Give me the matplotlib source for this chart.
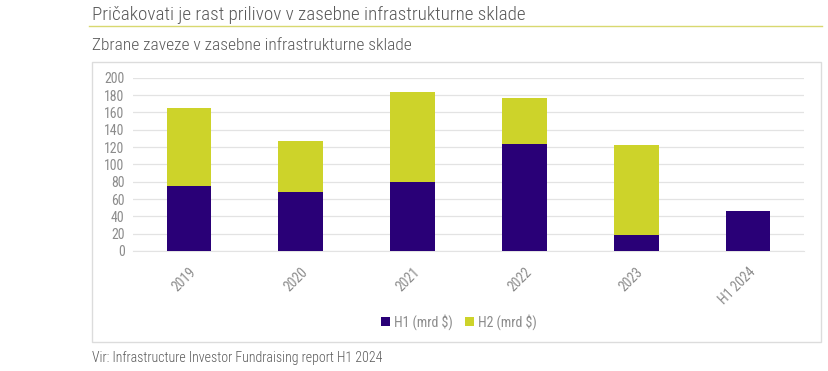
import matplotlib.pyplot as plt
import numpy as np
from matplotlib.patches import Rectangle
from matplotlib.lines import Line2D

# Zbrane zaveze (mrd $), po polletjih
categories = ["2019", "2020", "2021", "2022", "2023", "H1 2024"]
h1_values = [75, 68, 80, 124, 18, 46]
h2_values = [90, 59, 104, 53, 104, 0]

H1_COLOR = "#290077"
H2_COLOR = "#cdd32a"
TEXT_GREY = "#595959"
TICK_GREY = "#8c8c8c"

NARROW = ["Roboto Condensed", "Archivo Narrow", "Liberation Sans", "DejaVu Sans"]
plt.rcParams["font.family"] = NARROW

fig = plt.figure(figsize=(8.29, 3.71), dpi=100, facecolor="white")
W, H = 829, 371


def fx(px):
    return px / W


def fy(py):
    return 1 - py / H


# title + underline
fig.text(fx(92), fy(15), "Pričakovati je rast prilivov v zasebne infrastrukturne sklade",
         fontsize=13.8, color=TEXT_GREY, ha="left", va="center", fontweight="light")
fig.add_artist(Line2D([fx(89), fx(822)], [fy(26), fy(26)], color="#d8d870", linewidth=1.0))
fig.text(fx(92), fy(45), "Zbrane zaveze v zasebne infrastrukturne sklade",
         fontsize=12.5, color=TEXT_GREY, ha="left", va="center", fontweight="light")

# chart frame
fig.add_artist(Rectangle((fx(92), fy(342)), fx(821) - fx(92), fy(62) - fy(342),
                         transform=fig.transFigure, facecolor="none",
                         edgecolor="#dcdcdc", linewidth=1.0))

fig.text(fx(92), fy(358), "Vir: Infrastructure Investor Fundraising report H1 2024",
         fontsize=10, color=TEXT_GREY, ha="left", va="center", fontweight="light")

ax = fig.add_axes([fx(133), fy(251), fx(804) - fx(133), fy(77.7) - fy(251)])
x = np.arange(len(categories))
ax.bar(x, h1_values, width=0.4, color=H1_COLOR, label="H1 (mrd $)", zorder=3)
ax.bar(x, h2_values, width=0.4, bottom=h1_values, color=H2_COLOR, label="H2 (mrd $)", zorder=3)

ax.set_xlim(-0.5, len(categories) - 0.5)
ax.set_ylim(0, 200)
ax.set_yticks(range(0, 201, 20))
ax.grid(axis="y", color="#e3e3e3", linewidth=0.9, zorder=0)
for side in ["top", "right", "left"]:
    ax.spines[side].set_visible(False)
ax.spines["bottom"].set_color("#e3e3e3")
ax.tick_params(axis="both", length=0, colors=TICK_GREY, labelsize=10)
ax.tick_params(axis="y", pad=6)
ax.set_xticks(x)
ax.set_xticklabels(categories, rotation=45, ha="right", rotation_mode="anchor")
ax.tick_params(axis="x", pad=10)

leg = fig.legend(loc="center", bbox_to_anchor=(fx(459), fy(322)), ncol=2, frameon=False,
                 fontsize=10, handlelength=0.6, handleheight=0.6, handletextpad=0.3,
                 columnspacing=0.9, labelcolor=TICK_GREY)

fig.savefig("out.png", dpi=100, facecolor="white")
